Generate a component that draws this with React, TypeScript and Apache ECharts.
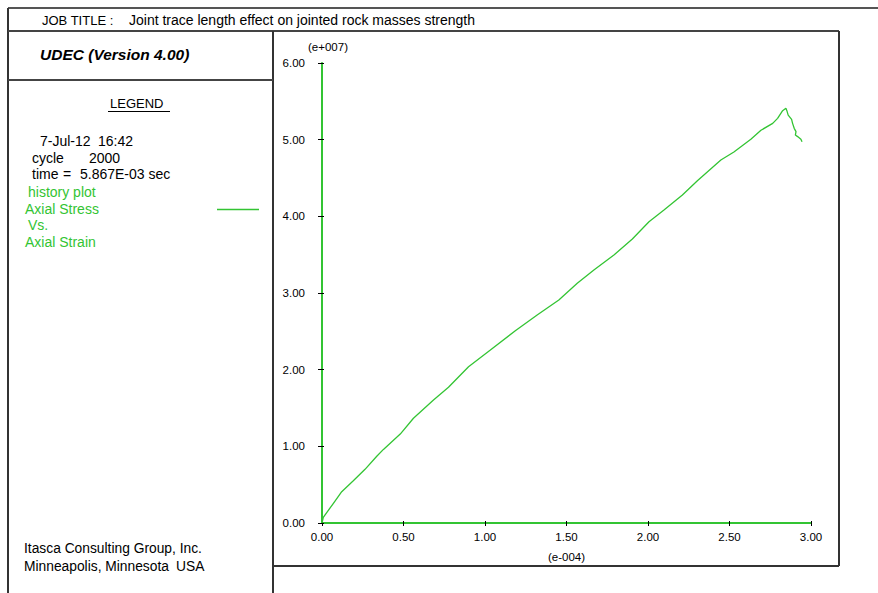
import React, { useEffect, useRef } from "react";
import * as echarts from "echarts";

// Axial strain (units of 1e-4) and axial stress (units of 1e7)
const strainX = [0, 0.008, 0.07, 0.121, 0.192, 0.264, 0.336, 0.377, 0.48, 0.561, 0.684, 0.776, 0.899, 1.033, 1.186, 1.32, 1.453, 1.566, 1.668, 1.791, 1.904, 2.006, 2.098, 2.211, 2.303, 2.447, 2.527, 2.631, 2.693, 2.765, 2.795, 2.826, 2.846, 2.852, 2.86, 2.881, 2.887, 2.897, 2.908, 2.904, 2.918, 2.938, 2.945];
const stressY = [0, 0.074, 0.257, 0.408, 0.55, 0.7, 0.87, 0.96, 1.16, 1.366, 1.604, 1.77, 2.039, 2.256, 2.508, 2.713, 2.909, 3.126, 3.3, 3.496, 3.704, 3.93, 4.082, 4.278, 4.465, 4.734, 4.84, 5.005, 5.123, 5.213, 5.278, 5.378, 5.409, 5.378, 5.32, 5.265, 5.213, 5.148, 5.105, 5.06, 5.04, 5.005, 4.973];

const xTicks = { min: 0, max: 3, interval: 0.5 };
const yTicks = { min: 0, max: 6, interval: 1 };

const jobTitle = "Joint trace length effect on jointed rock masses strength";
const xUnit = "(e-004)";
const yUnit = "(e+007)";

const GREEN = "#33c433";
const FONT = "Arial, 'Liberation Sans', sans-serif";

export default function App() {
  const ref = useRef<HTMLDivElement>(null);
  useEffect(() => {
    if (!ref.current) return;
    const chart = echarts.init(ref.current, undefined, { renderer: "svg" });
    const data = strainX.map((x, i) => [x, stressY[i]]);
    const txt = (text: string, x: number, y: number, size: number, fill = "#000", extra: any = {}) => ({
      type: "text",
      x,
      y,
      silent: true,
      style: { text, fill, fontStyle: extra.italic ? "italic" : "normal", fontWeight: extra.weight || "normal", fontSize: size, fontFamily: FONT, align: extra.align || "left", verticalAlign: "middle" },
    });
    const ln = (x1: number, y1: number, x2: number, y2: number, w = 2, c = "#333") => ({
      type: "line",
      silent: true,
      shape: { x1, y1, x2, y2 },
      style: { stroke: c, lineWidth: w },
    });
    const labelStyle = { color: "#000", fontSize: 11.5, fontFamily: FONT };
    chart.setOption({
      animation: false,
      backgroundColor: "#fff",
      grid: { left: 322, top: 63, width: 489, height: 460, containLabel: false },
      xAxis: [
        {
          type: "value", ...xTicks,
          axisLine: { show: true, onZero: false, lineStyle: { color: GREEN, width: 2 } },
          axisTick: { show: true, inside: false, length: 3, lineStyle: { color: "#000", width: 1 } },
          axisLabel: { ...labelStyle, margin: 8, formatter: (v: number) => v.toFixed(2) },
          splitLine: { show: false },
          name: xUnit, nameLocation: "middle", nameGap: 28,
          nameTextStyle: { ...labelStyle },
        },
        {
          type: "value", ...xTicks, position: "bottom",
          axisLine: { show: false },
          axisTick: { show: true, inside: true, length: 2, lineStyle: { color: "#000", width: 1 } },
          axisLabel: { show: false },
          splitLine: { show: false },
        },
      ],
      yAxis: [
        {
          type: "value", ...yTicks,
          axisLine: { show: true, onZero: false, lineStyle: { color: GREEN, width: 2 } },
          axisTick: { show: true, inside: false, length: 4, lineStyle: { color: "#000", width: 1 } },
          axisLabel: { ...labelStyle, margin: 17, formatter: (v: number) => v.toFixed(2) },
          splitLine: { show: false },
          name: yUnit, nameLocation: "end", nameGap: 10,
          nameTextStyle: { ...labelStyle, padding: [0, 0, 0, 12] },
        },
        {
          type: "value", ...yTicks, position: "left",
          axisLine: { show: false },
          axisTick: { show: true, inside: true, length: 2, lineStyle: { color: "#000", width: 1 } },
          axisLabel: { show: false },
          splitLine: { show: false },
        },
      ],
      series: [
        {
          type: "line",
          xAxisIndex: 0,
          yAxisIndex: 0,
          data,
          showSymbol: false,
          symbol: "none",
          lineStyle: { color: GREEN, width: 1.3 },
          z: 3,
        },
      ],
      graphic: [
        // frame
        ln(8, 8, 878, 8, 2, "#555"),
        ln(8, 8, 8, 593, 2, "#333"),
        ln(8, 31, 839, 31, 2, "#444"),
        ln(273, 31, 273, 593, 2, "#333"),
        ln(8, 80, 273, 80, 2, "#444"),
        ln(839, 31, 839, 566, 2, "#333"),
        ln(273, 566, 839, 566, 2, "#333"),
        // header
        txt("JOB TITLE :", 42, 20, 13),
        txt(jobTitle, 129, 20, 14),
        txt("UDEC (Version 4.00)", 40, 54, 15.5, "#000", { weight: "bold", italic: true }),
        // legend
        txt("LEGEND", 110, 103, 13),
        ln(108, 111.5, 170, 111.5, 1, "#000"),
        txt("7-Jul-12", 40, 141, 14),
        txt("16:42", 98, 141, 14),
        txt("cycle", 32, 157.5, 14),
        txt("2000", 89, 157.5, 14),
        txt("time", 32, 174, 14),
        txt("=", 63, 174, 14),
        txt("5.867E-03 sec", 80, 174, 14),
        txt("history plot", 28, 191.5, 14, GREEN),
        txt("Axial Stress", 25, 208.5, 14, GREEN),
        txt("Vs.", 28, 225, 14, GREEN),
        txt("Axial Strain", 25, 242, 14, GREEN),
        ln(217, 209.5, 259, 209.5, 1.3, GREEN),
        // footer
        txt("Itasca Consulting Group, Inc.", 24, 548.5, 13.8),
        txt("Minneapolis, Minnesota", 24, 566, 13.8),
        txt("USA", 176, 566, 13.8),
      ],
    });
    return () => chart.dispose();
  }, []);
  return (
    <div
      ref={ref}
      style={{ position: "absolute", left: 0, top: 0, width: 878, height: 593, background: "#fff" }}
    />
  );
}
